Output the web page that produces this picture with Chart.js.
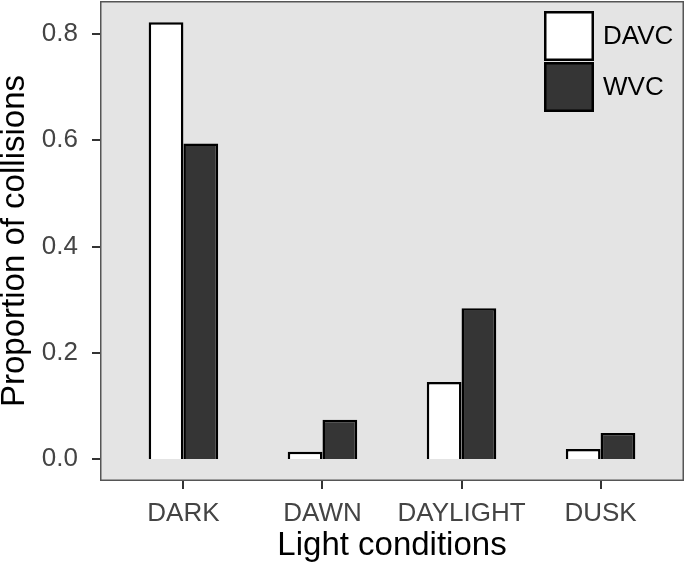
<!DOCTYPE html>
<html>
<head>
<meta charset="utf-8">
<script src="https://cdn.jsdelivr.net/npm/chart.js@4/dist/chart.umd.min.js"></script>
<style>
  html, body { margin: 0; padding: 0; background: #fff; }
  #chart { display: block; }
</style>
</head>
<body>
<canvas id="chart" width="685" height="565"></canvas>
<script>
const categories = ["DARK", "DAWN", "DAYLIGHT", "DUSK"];
const davc = [0.822, 0.014, 0.145, 0.019];
const wvc = [0.594, 0.074, 0.284, 0.049];
const yTicks = [0, 0.2, 0.4, 0.6, 0.8];

const FONT = "'Liberation Sans', Arial, sans-serif";
const TICK_LEN = 8;

// grey panel, its border, axis tick marks and the legend inside it (ggplot look)
const panelPlugin = {
  id: "panel",
  beforeDatasetsDraw(chart) {
    const { ctx, chartArea: a } = chart;
    ctx.save();
    ctx.fillStyle = "#e4e4e4";
    ctx.fillRect(a.left, a.top, a.right - a.left, a.bottom - a.top);
    ctx.restore();
  },
  afterDraw(chart) {
    const { ctx, chartArea: a, scales } = chart;
    ctx.save();
    ctx.strokeStyle = "#555";
    ctx.lineWidth = 1.5;
    ctx.strokeRect(a.left + 0.75, a.top + 0.75, a.right - a.left - 1.5, a.bottom - a.top - 1.5);

    // tick marks
    ctx.strokeStyle = "#333";
    ctx.lineWidth = 2;
    ctx.beginPath();
    scales.x.ticks.forEach((t) => {
      const px = Math.round(scales.x.getPixelForValue(t.value));
      ctx.moveTo(px, a.bottom);
      ctx.lineTo(px, a.bottom + TICK_LEN);
    });
    scales.y.ticks.forEach((t) => {
      const py = Math.round(scales.y.getPixelForValue(t.value));
      ctx.moveTo(a.left, py);
      ctx.lineTo(a.left - TICK_LEN, py);
    });
    ctx.stroke();

    // legend
    const x0 = a.right - 140, y0 = a.top + 10, size = 50;
    chart.data.datasets.forEach((ds, i) => {
      const y = y0 + i * (size + 1);
      ctx.fillStyle = ds.backgroundColor;
      ctx.fillRect(x0, y, size, size);
      ctx.strokeStyle = "#000";
      ctx.lineWidth = 2.5;
      ctx.strokeRect(x0 + 1.25, y + 1.25, size - 2.5, size - 2.5);
      ctx.fillStyle = "#000";
      ctx.font = "26px " + FONT;
      ctx.textBaseline = "middle";
      ctx.fillText(ds.label, x0 + size + 9, y + size / 2 + 1);
    });
    ctx.restore();
  }
};

const noPad = (s) => { s.paddingTop = 0; s.paddingBottom = 0; s.paddingLeft = 0; s.paddingRight = 0; };

new Chart(document.getElementById("chart"), {
  type: "bar",
  data: {
    datasets: [
      {
        label: "DAVC",
        data: davc.map((v, i) => ({ x: i + 1, y: v })),
        backgroundColor: "#ffffff",
        borderColor: "#000",
        borderWidth: 2.5,
        categoryPercentage: 0.5,
        barPercentage: 1
      },
      {
        label: "WVC",
        data: wvc.map((v, i) => ({ x: i + 1, y: v })),
        backgroundColor: "#353535",
        borderColor: "#000",
        borderWidth: 2.5,
        categoryPercentage: 0.5,
        barPercentage: 1
      }
    ]
  },
  options: {
    responsive: false,
    animation: false,
    layout: { padding: { top: 1, right: 1, left: 0, bottom: 0 } },
    plugins: {
      legend: { display: false },
      tooltip: { enabled: false }
    },
    scales: {
      x: {
        type: "linear",
        min: 0.4,
        max: 4.6,
        offset: false,
        afterBuildTicks: (s) => { s.ticks = categories.map((c, i) => ({ value: i + 1 })); },
        afterFit: (s) => { s.height = 84; noPad(s); },
        ticks: {
          callback: (v) => categories[v - 1],
          color: "#444",
          font: { family: FONT, size: 26 },
          padding: 9,
          autoSkip: false,
          maxRotation: 0
        },
        grid: { display: false },
        border: { display: false },
        title: {
          display: true,
          text: "Light conditions",
          color: "#000",
          font: { family: FONT, size: 33 },
          padding: { top: 0, bottom: -1 }
        }
      },
      y: {
        min: -0.0412,
        max: 0.862,
        afterBuildTicks: (s) => { s.ticks = yTicks.map((v) => ({ value: v })); },
        afterFit: (s) => { s.width = 100; noPad(s); },
        ticks: {
          callback: (v) => v.toFixed(1),
          color: "#444",
          font: { family: FONT, size: 26 },
          padding: 14
        },
        grid: { display: false },
        border: { display: false },
        title: {
          display: true,
          text: "Proportion of collisions",
          color: "#000",
          font: { family: FONT, size: 33 },
          padding: { top: -5, bottom: 0 }
        }
      }
    }
  },
  plugins: [panelPlugin]
});
</script>
</body>
</html>
